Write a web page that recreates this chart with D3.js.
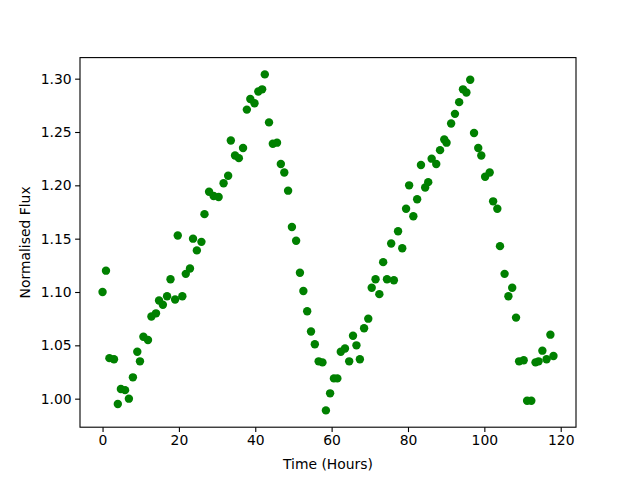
<!DOCTYPE html>
<html>
<head>
<meta charset="utf-8">
<script src="https://cdn.jsdelivr.net/npm/d3@7"></script>
<style>
  body { margin: 0; background: #fff; }
  svg { font-family: "DejaVu Sans", sans-serif; }
</style>
</head>
<body>
<div id="chart"></div>
<script>
// Light curve: time in hours vs normalised flux
const hours = [
  0.0, 0.9, 1.8, 3.0, 4.0, 4.8, 5.9, 6.9, 7.95, 9.1,
  9.8, 10.7, 11.9, 12.8, 14.0, 14.8, 15.8, 16.9, 17.8, 19.0,
  19.7, 20.9, 21.8, 22.9, 23.7, 24.7, 25.9, 26.7, 27.9, 29.1,
  30.4, 31.7, 32.9, 33.6, 34.7, 35.7, 36.8, 37.8, 38.7, 39.8,
  40.8, 41.8, 42.5, 43.6, 44.6, 45.7, 46.7, 47.6, 48.6, 49.6,
  50.7, 51.7, 52.6, 53.6, 54.6, 55.6, 56.6, 57.6, 58.5, 59.6,
  60.6, 61.5, 62.4, 63.5, 64.6, 65.6, 66.5, 67.4, 68.5, 69.6,
  70.5, 71.5, 72.5, 73.5, 74.5, 75.6, 76.3, 77.4, 78.5, 79.5,
  80.3, 81.4, 82.4, 83.4, 84.5, 85.3, 86.2, 87.4, 88.4, 89.5,
  90.1, 91.3, 92.3, 93.4, 94.4, 95.3, 96.3, 97.3, 98.4, 99.2,
  100.2, 101.4, 102.3, 103.4, 104.1, 105.3, 106.3, 107.3, 108.3, 109.1,
  110.3, 111.2, 112.3, 113.4, 114.2, 115.2, 116.3, 117.3, 118.1
];
const flux = [
  1.100, 1.120, 1.038, 1.037, 0.995, 1.009, 1.008, 1.000, 1.020, 1.044,
  1.035, 1.058, 1.055, 1.077, 1.080, 1.092, 1.088, 1.096, 1.112, 1.093,
  1.153, 1.096, 1.117, 1.122, 1.150, 1.139, 1.147, 1.173, 1.194, 1.190,
  1.189, 1.202, 1.209, 1.242, 1.228, 1.2255, 1.235, 1.271, 1.281, 1.277,
  1.288, 1.290, 1.304, 1.259, 1.239, 1.240, 1.220, 1.212, 1.195, 1.161,
  1.148, 1.118, 1.101, 1.082, 1.063, 1.051, 1.035, 1.034, 0.989, 1.005,
  1.019, 1.019, 1.044, 1.047, 1.035, 1.059, 1.050, 1.037, 1.066, 1.075,
  1.104, 1.112, 1.098, 1.128, 1.112, 1.1455, 1.111, 1.157, 1.141, 1.178,
  1.200, 1.171, 1.187, 1.219, 1.198, 1.203, 1.225, 1.220, 1.233, 1.243,
  1.240, 1.258, 1.267, 1.278, 1.290, 1.287, 1.299, 1.249, 1.235, 1.228,
  1.208, 1.212, 1.185, 1.178, 1.143, 1.117, 1.096, 1.104, 1.076, 1.035,
  1.036, 0.998, 0.998, 1.034, 1.035, 1.045, 1.037, 1.060, 1.040
];
const xTicks = [0, 20, 40, 60, 80, 100, 120];
const yTicks = [1.00, 1.05, 1.10, 1.15, 1.20, 1.25, 1.30];

const data = hours.map((h, i) => ({ t: h, f: flux[i] }));

const W = 640, H = 480;
const margin = { top: 57.6, right: 64, bottom: 52.8, left: 80 };
const innerW = W - margin.left - margin.right;
const innerH = H - margin.top - margin.bottom;

// matplotlib-style 5% padding on the data extent
function padded(ext) {
  const d = (ext[1] - ext[0]) * 0.05;
  return [ext[0] - d, ext[1] + d];
}

const x = d3.scaleLinear()
  .domain(padded(d3.extent(data, d => d.t)))
  .range([0, innerW]);
const y = d3.scaleLinear()
  .domain(padded(d3.extent(data, d => d.f)))
  .range([innerH, 0]);

const svg = d3.select("#chart").append("svg")
  .attr("width", W)
  .attr("height", H);

const g = svg.append("g")
  .attr("transform", `translate(${margin.left},${margin.top})`);

g.selectAll("circle")
  .data(data)
  .join("circle")
  .attr("cx", d => x(d.t))
  .attr("cy", d => y(d.f))
  .attr("r", 4.2)
  .attr("fill", "#008000");

const xAxis = g.append("g")
  .attr("transform", `translate(0,${innerH})`)
  .call(d3.axisBottom(x).tickValues(xTicks).tickFormat(d3.format("d"))
    .tickSize(4.9).tickPadding(3.5));
const yAxis = g.append("g")
  .call(d3.axisLeft(y).tickValues(yTicks).tickFormat(d3.format(".2f"))
    .tickSize(4.9).tickPadding(3.5));

[xAxis, yAxis].forEach(a => {
  a.select(".domain").remove();
  a.selectAll(".tick line").attr("stroke", "#000").attr("stroke-width", 1.1);
  a.selectAll(".tick text")
    .attr("fill", "#000")
    .style("font-size", "13.9px")
    .style("font-family", "'DejaVu Sans', sans-serif");
});

// frame
g.append("rect")
  .attr("width", innerW)
  .attr("height", innerH)
  .attr("fill", "none")
  .attr("stroke", "#000")
  .attr("stroke-width", 1.1);

svg.append("text")
  .attr("x", margin.left + innerW / 2)
  .attr("y", 469)
  .attr("text-anchor", "middle")
  .style("font-size", "13.9px")
  .text("Time (Hours)");

svg.append("text")
  .attr("transform", `translate(30,${margin.top + innerH / 2}) rotate(-90)`)
  .attr("text-anchor", "middle")
  .style("font-size", "13.9px")
  .text("Normalised Flux");
</script>
</body>
</html>
